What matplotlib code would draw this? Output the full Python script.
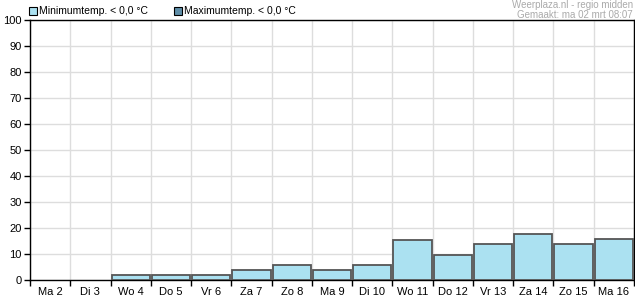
import numpy as np
import matplotlib
matplotlib.use("Agg")
import matplotlib.pyplot as plt
from matplotlib.patches import Rectangle

plt.rcParams['font.family'] = ['Liberation Sans', 'DejaVu Sans']

days = ["Ma 2", "Di 3", "Wo 4", "Do 5", "Vr 6", "Za 7", "Zo 8", "Ma 9",
        "Di 10", "Wo 11", "Do 12", "Vr 13", "Za 14", "Zo 15", "Ma 16"]
min_temp = [0, 0, 1.9, 1.9, 1.9, 3.8, 5.8, 3.8, 5.8, 15.4, 9.6, 13.8, 17.7, 13.7, 15.6]
max_temp = [0, 0, 0, 0, 0, 0, 0, 0, 0, 0, 0, 0, 0, 0, 0]
yticks = list(range(0, 101, 10))

min_col = "#abe1f1"
max_col = "#5f8ea8"

fig = plt.figure(figsize=(6.35, 3.0), dpi=100)
ax = fig.add_axes([30/635, 20/300, 604/635, 260/300])

x = np.arange(len(days))
vals = np.array(min_temp, dtype=float)
# empty days show no bar at all
keep = vals > 0
ax.bar(x[keep] + 0.5, vals[keep], width=0.95, color=min_col, edgecolor="#555555",
       linewidth=1.3, zorder=3)

ax.set_xlim(0, len(days))
ax.set_ylim(0, 100)
ax.set_yticks(yticks)
ax.set_xticks(np.arange(len(days) + 1))
ax.set_xticklabels([])
ax.set_xticks(x + 0.5, minor=True)
ax.set_xticklabels(days, minor=True)
ax.tick_params(axis="x", which="minor", length=0, pad=5, labelsize=8)
ax.tick_params(axis="x", which="major", length=4, direction="out", width=1)
ax.tick_params(axis="y", length=4, direction="out", width=1, labelsize=8, pad=2)
ax.grid(True, which="major", color="#dddddd", linewidth=1, zorder=0)
for s in ax.spines.values():
    s.set_color("black")
    s.set_linewidth(1)

# legend
fig.patches.append(Rectangle((29/635, 285/300), 8/635, 8/300, transform=fig.transFigure,
                             facecolor=min_col, edgecolor="black", linewidth=0.8))
fig.text(39/635, 289/300, "Minimumtemp. < 0,0 °C", fontsize=7.5, va="center")
fig.patches.append(Rectangle((174/635, 285/300), 8/635, 8/300, transform=fig.transFigure,
                             facecolor=max_col, edgecolor="black", linewidth=0.8))
fig.text(184/635, 289/300, "Maximumtemp. < 0,0 °C", fontsize=7.5, va="center")

fig.text(633/635, 295/300, "Weerplaza.nl - regio midden", fontsize=7, color="#aaaaaa",
         ha="right", va="center")
fig.text(633/635, 285/300, "Gemaakt: ma 02 mrt 08:07", fontsize=7, color="#aaaaaa",
         ha="right", va="center")

fig.savefig("out.png", dpi=100)
